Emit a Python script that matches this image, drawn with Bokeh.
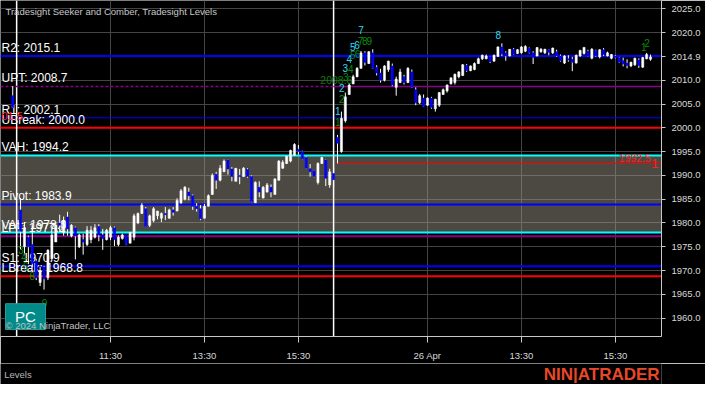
import pandas as pd
from bokeh.plotting import figure
from bokeh.layouts import column
from bokeh.models import (ColumnDataSource, FixedTicker, PrintfTickFormatter, Span,
                          BoxAnnotation, Label, Range1d)
from bokeh.core.properties import value
from bokeh.embed import file_html
from bokeh.resources import INLINE

# ---------------- data ----------------
# bar index (5-minute bars); day 1 session starts at 0, day 2 session at 81
bar_index = [-1] + list(range(1, 82)) + list(range(82, 163))

opens = [2006.75,
    1982.75, 1975.0, 1977.0, 1975.5, 1972.0, 1967.5, 1970.75, 1968.5, 1972.5, 1976.0,
    1980.0, 1978.0, 1981.25, 1977.25, 1979.0, 1975.0, 1976.5, 1975.5, 1976.5, 1977.0,
    1979.25, 1977.5, 1976.5, 1977.0, 1979.0, 1975.5, 1976.75, 1977.5, 1975.75, 1977.0,
    1980.0, 1982.0, 1983.0, 1979.5, 1980.5, 1981.5, 1981.0, 1982.0, 1981.0, 1982.75,
    1982.5, 1984.25, 1985.0, 1986.5, 1985.75, 1983.5, 1983.0, 1981.0, 1983.5, 1986.0,
    1990.25, 1989.0, 1990.75, 1993.25, 1991.35, 1988.75, 1990.0, 1989.75, 1991.25, 1989.75,
    1984.25, 1987.5, 1985.25, 1986.5, 1987.5, 1986.0, 1989.0, 1991.5, 1992.5, 1993.0,
    1994.25, 1995.5, 1995.0, 1993.75, 1991.4, 1991.0, 1988.5, 1992.5, 1993.25, 1988.0,
    1990.4,
    1998.0, 1995.0, 2001.5, 2007.0, 2009.25, 2010.75, 2012.5, 2015.75, 2013.5, 2015.75,
    2012.75, 2011.5, 2010.0, 2012.25, 2013.0, 2008.5, 2009.5, 2010.75, 2009.5, 2011.75,
    2008.0, 2005.25, 2006.25, 2004.75, 2006.25, 2004.0, 2004.75, 2007.0, 2007.75, 2009.25,
    2009.5, 2010.75, 2011.0, 2013.15, 2012.0, 2012.25, 2013.5, 2014.5, 2014.5, 2015.0,
    2014.0, 2015.0, 2017.0, 2015.75, 2015.1, 2016.5, 2015.6, 2015.75, 2016.1, 2016.75,
    2015.75, 2015.1, 2016.0, 2015.75, 2016.4, 2015.75, 2016.0, 2015.1, 2013.6, 2014.5,
    2014.4, 2013.6, 2015.1, 2015.6, 2016.1, 2014.6, 2016.25, 2014.9, 2016.4, 2015.1,
    2014.6, 2015.1, 2014.75, 2014.1, 2013.6, 2013.0, 2013.25, 2014.25, 2012.75, 2014.5,
    2014.4]

highs = [2008.75,
    1985.25, 1980.15, 1977.35, 1979.35, 1972.5, 1970.75, 1971.0, 1974.5, 1978.15, 1980.15,
    1981.75, 1981.35, 1982.35, 1979.75, 1979.25, 1977.75, 1977.75, 1979.35, 1979.35, 1979.75,
    1979.75, 1978.75, 1978.75, 1979.4, 1979.25, 1977.4, 1977.75, 1977.5, 1978.15, 1981.95,
    1982.2, 1984.15, 1983.35, 1981.75, 1983.35, 1982.55, 1982.2, 1983.35, 1983.0, 1983.35,
    1985.2, 1987.15, 1987.75, 1987.4, 1986.0, 1984.15, 1983.75, 1984.0, 1986.0, 1990.4,
    1990.75, 1992.15, 1993.35, 1993.35, 1991.75, 1991.55, 1991.35, 1991.75, 1991.5, 1990.0,
    1988.75, 1988.75, 1987.75, 1988.4, 1988.1, 1989.4, 1993.2, 1993.2, 1994.1, 1995.4,
    1996.75, 1996.4, 1995.2, 1994.0, 1992.4, 1991.1, 1992.75, 1993.9, 1993.35, 1991.4,
    1991.55,
    1998.5, 2003.4, 2007.4, 2009.4, 2011.15, 2012.75, 2016.15, 2016.1, 2016.1, 2016.5,
    2013.15, 2012.4, 2013.15, 2014.1, 2013.5, 2010.75, 2012.4, 2011.15, 2012.75, 2012.25,
    2008.5, 2007.1, 2007.0, 2006.4, 2006.5, 2006.1, 2007.5, 2008.25, 2009.1, 2010.55,
    2011.4, 2011.9, 2013.4, 2013.4, 2013.1, 2013.75, 2014.75, 2015.4, 2015.4, 2015.1,
    2015.4, 2017.1, 2017.75, 2016.1, 2016.55, 2016.75, 2016.55, 2017.15, 2017.35, 2016.9,
    2016.1, 2016.95, 2016.75, 2016.6, 2016.5, 2016.85, 2016.4, 2015.4, 2015.25, 2015.25,
    2014.9, 2015.4, 2016.4, 2016.95, 2016.4, 2016.75, 2016.4, 2016.5, 2016.75, 2016.0,
    2015.5, 2015.3, 2014.9, 2014.75, 2014.4, 2013.9, 2014.75, 2014.6, 2014.9, 2015.75,
    2015.4]

lows = [2004.15,
    1974.5, 1973.35, 1971.35, 1970.75, 1968.0, 1966.75, 1966.0, 1968.0, 1972.0, 1976.0,
    1978.15, 1977.35, 1977.35, 1977.0, 1972.35, 1974.75, 1973.35, 1975.15, 1975.75, 1976.75,
    1976.15, 1974.35, 1976.35, 1976.4, 1975.15, 1975.1, 1976.5, 1975.35, 1975.75, 1976.35,
    1979.75, 1981.9, 1979.15, 1979.15, 1980.15, 1980.75, 1980.2, 1980.6, 1980.9, 1981.55,
    1982.5, 1984.0, 1984.75, 1984.75, 1982.75, 1982.4, 1980.6, 1981.0, 1983.5, 1985.95,
    1987.15, 1988.75, 1990.75, 1990.15, 1988.75, 1988.75, 1988.15, 1989.75, 1989.5, 1984.4,
    1984.2, 1985.4, 1985.15, 1986.4, 1985.4, 1986.0, 1988.9, 1991.4, 1992.4, 1992.75,
    1994.15, 1994.4, 1993.4, 1991.4, 1989.75, 1989.6, 1988.1, 1992.4, 1987.75, 1987.4,
    1987.5,
    1992.5, 1994.75, 2001.1, 2006.9, 2009.15, 2010.6, 2012.4, 2013.1, 2013.4, 2012.4,
    2011.0, 2009.5, 2009.75, 2011.75, 2008.75, 2006.75, 2009.4, 2009.1, 2009.4, 2008.4,
    2004.75, 2005.0, 2004.4, 2004.6, 2004.0, 2003.4, 2004.4, 2006.9, 2007.4, 2009.1,
    2009.1, 2010.4, 2010.9, 2011.75, 2011.9, 2012.1, 2013.4, 2014.25, 2014.4, 2013.6,
    2013.9, 2014.9, 2015.1, 2014.1, 2015.0, 2015.4, 2015.5, 2015.6, 2015.9, 2015.6,
    2013.4, 2015.0, 2015.75, 2015.5, 2015.25, 2015.5, 2014.9, 2013.9, 2013.4, 2013.9,
    2011.9, 2013.5, 2014.9, 2015.4, 2015.0, 2014.4, 2014.9, 2014.6, 2015.1, 2015.0,
    2014.4, 2014.6, 2013.6, 2012.9, 2012.5, 2012.75, 2013.0, 2012.6, 2012.6, 2014.4,
    2014.1]

closes = [2004.25,
    1978.25, 1979.0, 1975.0, 1971.5, 1968.5, 1970.0, 1968.25, 1974.25, 1977.5, 1979.5,
    1979.5, 1980.5, 1978.75, 1979.5, 1977.25, 1977.5, 1976.0, 1978.5, 1978.5, 1979.0,
    1977.5, 1976.75, 1978.5, 1979.0, 1976.5, 1977.0, 1977.5, 1975.5, 1978.0, 1981.5,
    1982.0, 1983.75, 1979.25, 1981.5, 1983.0, 1982.5, 1982.0, 1981.75, 1982.75, 1982.25,
    1984.75, 1986.75, 1987.5, 1985.75, 1983.5, 1983.0, 1980.9, 1983.5, 1985.75, 1990.0,
    1989.0, 1991.5, 1993.0, 1991.35, 1989.75, 1991.5, 1989.75, 1991.5, 1989.75, 1984.5,
    1988.5, 1986.5, 1987.5, 1988.0, 1986.5, 1989.25, 1993.0, 1992.75, 1994.0, 1995.25,
    1996.5, 1995.0, 1993.5, 1991.5, 1990.75, 1989.75, 1992.5, 1993.75, 1989.4, 1990.75,
    1989.1,
    1996.75, 2002.0, 2006.5, 2009.0, 2010.75, 2012.5, 2015.75, 2013.75, 2016.0, 2012.5,
    2011.5, 2010.0, 2013.0, 2014.0, 2009.0, 2010.25, 2011.75, 2009.5, 2012.5, 2008.5,
    2005.25, 2006.75, 2004.5, 2006.25, 2004.25, 2006.0, 2007.4, 2008.0, 2009.0, 2010.5,
    2011.25, 2011.75, 2013.25, 2012.0, 2013.0, 2013.5, 2014.5, 2015.25, 2015.1, 2013.9,
    2015.25, 2017.0, 2015.5, 2015.1, 2016.5, 2015.5, 2016.4, 2017.0, 2017.1, 2015.75,
    2014.75, 2016.85, 2016.5, 2016.5, 2015.9, 2016.75, 2015.1, 2014.1, 2015.1, 2014.25,
    2013.75, 2015.25, 2016.25, 2016.9, 2015.1, 2016.5, 2015.1, 2016.4, 2015.4, 2015.75,
    2015.4, 2014.75, 2013.75, 2013.4, 2013.1, 2013.75, 2014.6, 2013.1, 2014.75, 2015.4,
    2014.9]

last_price = 2014.9

# session breaks and time axis labels
session_starts = [0, 81]
time_ticks = [24, 48, 72, 105, 129, 153]
time_labels = ["11:30", "13:30", "15:30", "26 Apr", "13:30", "15:30"]
price_grid = list(range(1960, 2026, 5))

# Tradesight levels
level_names = ["R2", "UPT", "R1", "UBreak", "VAH", "Pivot", "VAL", "LPT", "S1", "LBreak"]
level_values = [2015.1, 2008.7, 2002.1, 2000.0, 1994.2, 1983.9, 1978.0, 1977.2, 1970.9, 1968.8]

seeker_level = 1992.5          # red level drawn from day-2 open
seeker_text = "1992.5"
prev_level_text = "01.5"
prev_level_value = 2002.55
upt_tag_text = "2008.6"
upt_tag_value = 2009.95

# count labels (bar index, price, text)
cyan_idx = [82.1, 83.1, 84.0, 85.0, 85.9, 87.0, 88.0, 123.1]
cyan_px = [2003.5, 2008.35, 2012.65, 2014.45, 2017.05, 2017.45, 2020.55, 2019.45]
cyan_txt = ["1", "2", "3", "4", "5", "6", "7", "8"]

green_idx = [1.1, 1.9, 2.3, 4.0, 7.1, 82.1, 83.1, 84.1, 85.4, 85.9, 87.1, 87.9, 89.0, 90.1, 160.25, 161.1]
green_px = [1974.3, 1972.8, 1970.9, 1968.9, 1963.1, 2001.3, 2006.1, 2010.6, 2012.45, 2015.35,
            2015.55, 2018.25, 2018.25, 2018.25, 2016.95, 2017.85]
green_txt = ["3", "4", "6", "8", "9", "1", "2", "3", "4", "5", "6", "7", "8", "9", "1", "2"]

# ---------------- layout ----------------
W = 705
H_MAIN, H_FOOT = 363, 21
RB, BB = 44, 25
FW, FH = W - RB, H_MAIN - BB
X0, X1 = -4.125, 164.8
Y0, Y1 = 1956.15, 2026.75
XPX = (X1 - X0) / FW
YPX = (Y1 - Y0) / FH

FONT = "Liberation Sans"

p = figure(width=W, height=H_MAIN, output_backend="svg", toolbar_location=None,
           x_range=Range1d(X0, X1), y_range=Range1d(Y0, Y1),
           y_axis_location="right", min_border_left=0, min_border_top=0,
           min_border_right=RB, min_border_bottom=BB)
p.background_fill_color = "black"
p.border_fill_color = "black"
p.outline_line_color = None

# axes
for ax in (p.xaxis[0], p.yaxis[0]):
    ax.axis_line_color = "#c8c8c8"
    ax.major_tick_line_color = "#c8c8c8"
    ax.major_tick_in = 0
    ax.minor_tick_line_color = None
    ax.major_label_text_color = "#d8d8d8"
    ax.major_label_text_font = FONT
    ax.major_label_text_font_size = "9.5px"

# the last-price tag replaces the 2015.0 label on the price axis
axis_ticks = [t for t in price_grid if abs(t - last_price) > 1] + [last_price]
p.yaxis.ticker = FixedTicker(ticks=sorted(axis_ticks))
p.yaxis.formatter = PrintfTickFormatter(format="%.1f")
p.yaxis.major_tick_out = 4
p.yaxis.major_label_standoff = 6

p.xaxis.ticker = FixedTicker(ticks=time_ticks)
p.xaxis.major_label_overrides = {t: l for t, l in zip(time_ticks, time_labels)}
p.xaxis.major_tick_out = 6
p.xaxis.major_label_standoff = 7

p.xgrid.ticker = FixedTicker(ticks=time_ticks)
p.ygrid.ticker = FixedTicker(ticks=price_grid)
p.grid.grid_line_color = "#444444"
p.grid.grid_line_width = 1

# value area shading
lv = dict(zip(level_names, level_values))
p.add_layout(BoxAnnotation(bottom=lv["VAL"], top=lv["VAH"], fill_color="#a09c8c",
                           fill_alpha=0.47, line_alpha=0, level="underlay"))

# level lines
level_colors = {"R2": "#0000ff", "UPT": "#8b008b", "R1": "#0000ff", "UBreak": "#ff0000",
                "VAH": "#00ffff", "Pivot": "#0000ff", "VAL": "#00ffff", "LPT": "#8b008b",
                "S1": "#0000ff", "LBreak": "#ff0000"}
level_widths = {"R2": 2, "UPT": 1.5, "R1": 1, "UBreak": 2, "VAH": 2, "Pivot": 2,
                "VAL": 2, "LPT": 2, "S1": 2, "LBreak": 2}
for name in level_names:
    if name == "UPT":
        continue
    p.add_layout(Span(location=lv[name], dimension="width", line_color=level_colors[name],
                      line_width=level_widths[name], level="underlay"))
# UPT: dashed on day 1, solid on day 2
p.line([X0, session_starts[1]], [lv["UPT"], lv["UPT"]], line_color="#8b008b",
       line_width=1.5, line_dash="3 2")
p.line([session_starts[1], X1], [lv["UPT"], lv["UPT"]], line_color="#8b008b", line_width=1.5)
# seeker level from day-2 open
p.line([session_starts[1] + 1, X1], [seeker_level, seeker_level], line_color="#ff0000", line_width=1)

# session break lines
for s in session_starts:
    p.add_layout(Span(location=s, dimension="height", line_color="white", line_width=1.5,
                      level="underlay"))

# level labels
lsrc = ColumnDataSource(dict(x=[X0] * len(level_names), y=level_values,
                             t=[f"{n}: {v:.1f}" for n, v in zip(level_names, level_values)]))
p.text(x="x", y="y", text="t", source=lsrc, x_offset=1, y_offset=-1,
       text_color="white", text_font=value(FONT), text_font_size="12px",
       text_baseline="bottom", text_align="left")

# candles
df = pd.DataFrame(dict(x=bar_index, o=opens, h=highs, l=lows, c=closes))
df["top"] = df[["o", "c"]].max(axis=1)
df["bot"] = df[["o", "c"]].min(axis=1)
df["col"] = ["white" if c >= o else "#0000ff" for o, c in zip(df.o, df.c)]
src = ColumnDataSource(df)
p.segment(x0="x", y0="l", x1="x", y1="h", source=src, line_color="white", line_width=1)
p.vbar(x="x", width=0.55, top="top", bottom="bot", source=src,
       fill_color="col", line_color="col", line_width=0.5)

# count labels
p.text(x=cyan_idx, y=cyan_px, text=cyan_txt, text_color="#2fd8f0",
       text_font=value(FONT), text_font_size="10px", text_align="center", text_baseline="middle")
p.text(x=green_idx, y=green_px, text=green_txt, text_color="#0b8c0b",
       text_font=value(FONT), text_font_size="10px", text_align="center", text_baseline="middle")

# small value tags
p.text(x=[X0], y=[prev_level_value], text=[prev_level_text], x_offset=1,
       text_color="#ff2020", text_font=value(FONT), text_font_size="11px",
       text_align="left", text_baseline="middle")
p.text(x=[77.6], y=[upt_tag_value], text=[upt_tag_text], text_color="#0a7a0a",
       text_font=value(FONT), text_font_size="10.5px", text_align="left", text_baseline="middle")
p.text(x=[153.9], y=[seeker_level + 1.1], text=[seeker_text], text_color="#ff2020",
       text_font=value(FONT), text_font_size="10.5px", text_align="left", text_baseline="middle")
p.text(x=[163.1], y=[seeker_level - 0.1], text=["1"], text_color="#ff2020",
       text_font=value(FONT), text_font_size="13px", text_align="center", text_baseline="middle")

# PC box
p.quad(left=[X0 + 5 * XPX], right=[X0 + 45 * XPX], bottom=[Y1 - 331 * YPX],
       top=[Y1 - 305 * YPX], fill_color="#008a8a", line_color="#2a9a9a")
p.text(x=[X0 + 25 * XPX], y=[Y1 - 318 * YPX], text=["PC"], text_color="white",
       text_font=value(FONT), text_font_size="15px", text_align="center", text_baseline="middle")

# texts on the chart
p.add_layout(Label(x=X0, y=Y1, x_offset=5, y_offset=-11, text="Tradesight Seeker and Comber, Tradesight Levels",
                   text_color="#c8c8c8", text_font=FONT, text_font_size="9.5px", text_baseline="middle"))
p.add_layout(Label(x=X0, y=Y0 + 11 * YPX, x_offset=5, text="© 2024 NinjaTrader, LLC",
                   text_color="#c0c0c0", text_font=FONT, text_font_size="9.5px", text_baseline="middle"))

# footer strip: indicator name and logo
f = figure(width=W, height=H_FOOT, output_backend="svg", toolbar_location=None,
           x_range=Range1d(0, W), y_range=Range1d(0, H_FOOT),
           x_axis_type=None, y_axis_type=None,
           min_border_left=0, min_border_right=0, min_border_top=0, min_border_bottom=0)
f.background_fill_color = "black"
f.border_fill_color = "black"
f.outline_line_color = None
f.grid.visible = False
f.add_layout(Label(x=4, y=10, text="Levels", text_color="#b8b8b8", text_font=FONT,
                   text_font_size="9.5px", text_baseline="middle"))
f.add_layout(Label(x=W - 2, y=10, text="NIN|ATRADER", text_align="right",
                   text_color="#e8482a", text_font=FONT, text_font_size="17px",
                   text_font_style="bold", text_baseline="middle"))

layout = column(p, f, spacing=0)
open("out.html", "w").write(file_html(layout, INLINE))
